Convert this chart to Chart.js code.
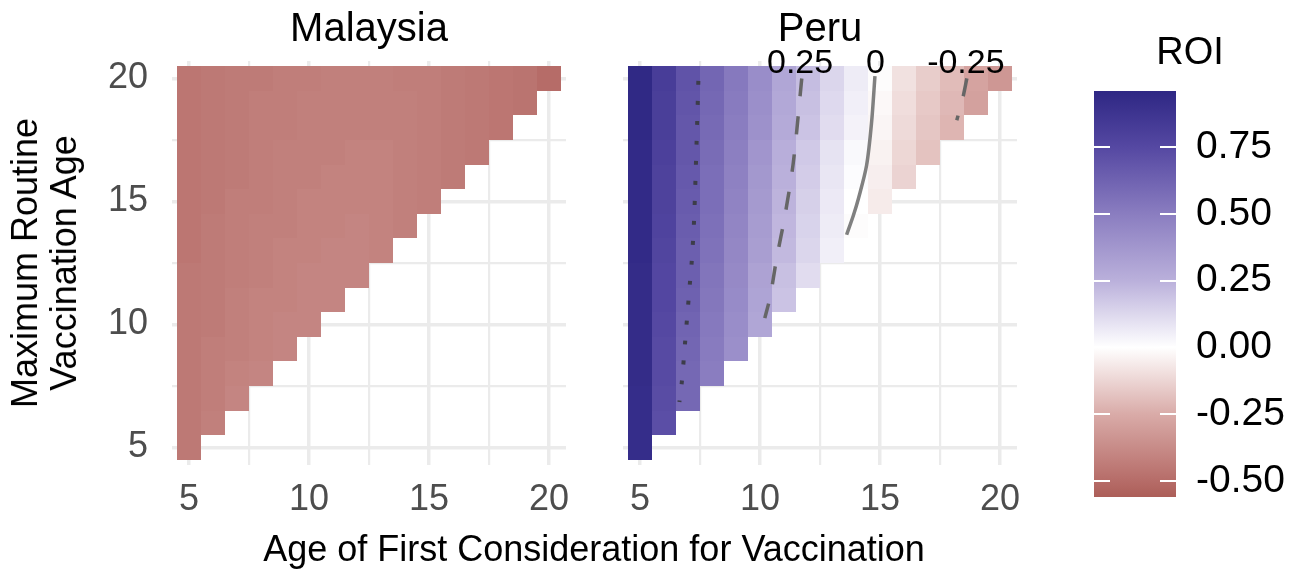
<!DOCTYPE html>
<html>
<head>
<meta charset="utf-8">
<script src="https://cdn.jsdelivr.net/npm/chart.js@4.4.0/dist/chart.umd.min.js"></script>
<style>
  body { margin: 0; background: #fff; width: 1299px; height: 571px; overflow: hidden; position: relative;
         font-family: "Liberation Sans", Arial, sans-serif; }
  canvas { position: absolute; }
  .lbl { position: absolute; transform: translate(-50%, -50%); white-space: nowrap; line-height: 1; color: #000; }
  .ytitle { position: absolute; left: 44px; top: 263px; transform: translate(-50%, -50%) rotate(-90deg);
            text-align: center; white-space: nowrap; font-size: 36px; line-height: 39px; color: #000; }
</style>
</head>
<body>
<canvas id="malaysia" width="600" height="571" style="left:0;top:0"></canvas>
<canvas id="peru" width="470" height="571" style="left:590px;top:0"></canvas>
<canvas id="legend" width="205" height="506" style="left:1094px;top:41px"></canvas>

<div class="lbl" style="left:369px;top:27px;font-size:40px">Malaysia</div>
<div class="lbl" style="left:820px;top:27px;font-size:40px">Peru</div>
<div class="lbl" style="left:1190px;top:51px;font-size:38px">ROI</div>
<div class="lbl" style="left:594px;top:549px;font-size:36px">Age of First Consideration for Vaccination</div>
<div class="ytitle">Maximum Routine<br>Vaccination Age</div>

<script>
// x: age of first consideration, rows: maximum routine age (top row first)
const ageFirst = [5, 6, 7, 8, 9, 10, 11, 12, 13, 14, 15, 16, 17, 18, 19, 20];
const maxRoutine = [20, 19, 18, 17, 16, 15, 14, 13, 12, 11, 10, 9, 8, 7, 6, 5];

const malaysiaROI = [
  [-0.46, -0.45, -0.44, -0.44, -0.43, -0.43, -0.42, -0.42, -0.42, -0.43, -0.43, -0.44, -0.45, -0.46, -0.47, -0.50],
  [-0.46, -0.45, -0.44, -0.43, -0.43, -0.42, -0.42, -0.42, -0.42, -0.42, -0.43, -0.44, -0.45, -0.46, -0.47],
  [-0.46, -0.45, -0.44, -0.43, -0.43, -0.42, -0.42, -0.42, -0.42, -0.42, -0.43, -0.44, -0.45, -0.46],
  [-0.46, -0.45, -0.44, -0.43, -0.42, -0.42, -0.42, -0.41, -0.41, -0.42, -0.43, -0.44, -0.45],
  [-0.46, -0.45, -0.44, -0.43, -0.42, -0.42, -0.41, -0.41, -0.41, -0.42, -0.43, -0.44],
  [-0.46, -0.45, -0.43, -0.43, -0.42, -0.41, -0.41, -0.41, -0.41, -0.42, -0.43],
  [-0.46, -0.44, -0.43, -0.42, -0.42, -0.41, -0.41, -0.40, -0.41, -0.42],
  [-0.46, -0.44, -0.43, -0.42, -0.41, -0.41, -0.40, -0.40, -0.41],
  [-0.45, -0.44, -0.43, -0.42, -0.41, -0.40, -0.40, -0.40],
  [-0.45, -0.44, -0.42, -0.41, -0.41, -0.40, -0.40],
  [-0.45, -0.44, -0.42, -0.41, -0.40, -0.40],
  [-0.45, -0.43, -0.42, -0.41, -0.40],
  [-0.45, -0.43, -0.41, -0.40],
  [-0.45, -0.43, -0.40],
  [-0.45, -0.42],
  [-0.45]
];

const peruROI = [
  [0.95, 0.82, 0.70, 0.61, 0.52, 0.42, 0.30, 0.21, 0.13, 0.06, -0.01, -0.09, -0.15, -0.20, -0.28, -0.33],
  [0.95, 0.81, 0.69, 0.60, 0.51, 0.41, 0.29, 0.20, 0.12, 0.05, -0.02, -0.10, -0.16, -0.21, -0.29],
  [0.95, 0.81, 0.68, 0.59, 0.50, 0.40, 0.28, 0.19, 0.11, 0.04, -0.03, -0.11, -0.17, -0.22],
  [0.94, 0.80, 0.68, 0.58, 0.49, 0.38, 0.26, 0.17, 0.09, 0.02, -0.04, -0.12, -0.18],
  [0.94, 0.79, 0.67, 0.57, 0.48, 0.37, 0.25, 0.16, 0.08, 0.01, -0.05, -0.13],
  [0.94, 0.79, 0.66, 0.57, 0.47, 0.36, 0.24, 0.15, 0.07, 0.00, -0.06],
  [0.94, 0.78, 0.65, 0.56, 0.46, 0.35, 0.23, 0.14, 0.06, -0.01],
  [0.94, 0.77, 0.64, 0.55, 0.45, 0.34, 0.22, 0.13, 0.05],
  [0.93, 0.76, 0.64, 0.54, 0.44, 0.32, 0.20, 0.11],
  [0.93, 0.76, 0.63, 0.53, 0.43, 0.31, 0.19],
  [0.93, 0.75, 0.62, 0.52, 0.42, 0.30],
  [0.93, 0.74, 0.61, 0.51, 0.41],
  [0.93, 0.74, 0.60, 0.50],
  [0.92, 0.73, 0.60],
  [0.92, 0.72],
  [0.92]
];

// Peru contour paths (age first, max routine age)
const contourDotted = [
  {x: 7.43, y: 19.9}, {x: 7.36, y: 17.5}, {x: 7.25, y: 14.2}, {x: 7.15, y: 12.5},
  {x: 7.08, y: 11.7}, {x: 6.88, y: 9.3}, {x: 6.74, y: 7.65}, {x: 6.64, y: 6.85}
];
const contourPos25 = [
  {x: 11.74, y: 20.0}, {x: 11.39, y: 16.6}, {x: 11.04, y: 14.43}, {x: 10.69, y: 12.67},
  {x: 10.42, y: 11.11}, {x: 10.2, y: 10.26}
];
const contourZero = [
  {x: 14.79, y: 20.1}, {x: 14.65, y: 18.22}, {x: 14.44, y: 16.46}, {x: 14.1, y: 15.11},
  {x: 13.89, y: 14.43}, {x: 13.61, y: 13.65}
];
const contourNeg25 = [
  {x: 18.62, y: 20.0}, {x: 18.45, y: 19.2}, {x: 18.2, y: 18.3}
];
const contourLabels = ['0.25', '0', '-0.25'];
const contourLabelX = [11.67, 14.81, 18.58];
const contourLabelY = 20.6;

const axisTicks = [5, 7.5, 10, 12.5, 15, 17.5, 20];
const roiTicks = [-0.5, -0.25, 0, 0.25, 0.5, 0.75];
const roiMin = -0.56, roiMax = 0.96;

// colour ramp
const rampStops = [
  {v: -0.56, c: [172, 94, 88]},
  {v: -0.50, c: [182, 108, 104]},
  {v: -0.25, c: [217, 171, 168]},
  {v: 0.00, c: [255, 255, 255]},
  {v: 0.25, c: [186, 176, 219]},
  {v: 0.50, c: [138, 125, 192]},
  {v: 0.75, c: [85, 72, 162]},
  {v: 0.96, c: [46, 39, 132]}
];

const FONT = '"Liberation Sans", Arial, sans-serif';

function roiColor(v) {
  if (v <= rampStops[0].v) return `rgb(${rampStops[0].c})`;
  for (let i = 1; i < rampStops.length; i++) {
    const a = rampStops[i - 1], b = rampStops[i];
    if (v <= b.v) {
      const f = (v - a.v) / (b.v - a.v);
      const c = a.c.map((ch, k) => Math.round(ch + (b.c[k] - ch) * f));
      return `rgb(${c})`;
    }
  }
  return `rgb(${rampStops[rampStops.length - 1].c})`;
}

function toCells(rows) {
  const out = [];
  rows.forEach((row, i) => {
    row.forEach((v, j) => out.push({x: ageFirst[j], y: maxRoutine[i], v: v}));
  });
  return out;
}

const heatCells = {
  id: 'heatCells',
  beforeDatasetsDraw(chart) {
    const {ctx, scales: {x, y}} = chart;
    ctx.save();
    chart.data.datasets[0].data.forEach(c => {
      const l = Math.round(x.getPixelForValue(c.x - 0.5));
      const r = Math.round(x.getPixelForValue(c.x + 0.5));
      const t = Math.round(y.getPixelForValue(c.y + 0.5));
      const b = Math.round(y.getPixelForValue(c.y - 0.5));
      ctx.fillStyle = roiColor(c.v);
      ctx.fillRect(l, t, r - l, b - t);
    });
    ctx.restore();
  }
};

const contourText = {
  id: 'contourText',
  afterDatasetsDraw(chart) {
    const {ctx, scales: {x, y}} = chart;
    ctx.save();
    ctx.font = `34px ${FONT}`;
    ctx.fillStyle = '#000';
    ctx.textAlign = 'center';
    ctx.textBaseline = 'middle';
    contourLabels.forEach((t, i) => {
      ctx.fillText(t, x.getPixelForValue(contourLabelX[i]), y.getPixelForValue(contourLabelY));
    });
    ctx.restore();
  }
};

function gridWidth(ctx) {
  return ctx.tick && ctx.tick.value % 5 === 0 ? 3.5 : 2.2;
}

function panelScales(showY) {
  return {
    x: {
      type: 'linear', min: 4.29, max: 20.71,
      afterBuildTicks: s => { s.ticks = axisTicks.map(v => ({value: v})); },
      afterFit: s => { s.height = 60; },
      grid: {color: '#EBEBEB', lineWidth: gridWidth, drawTicks: false},
      border: {display: false},
      ticks: {
        autoSkip: false, maxRotation: 0, padding: 13, color: '#4D4D4D',
        font: {size: 36, family: FONT},
        callback: v => (v % 5 === 0 ? String(v) : '')
      }
    },
    y: {
      type: 'linear', min: 4.29, max: 20.71,
      afterBuildTicks: s => { s.ticks = axisTicks.map(v => ({value: v})); },
      afterFit: s => { s.width = showY ? 172 : 0; },
      grid: {color: '#EBEBEB', lineWidth: gridWidth, drawTicks: false},
      border: {display: false},
      ticks: {
        display: showY, autoSkip: false, padding: 24, color: '#4D4D4D',
        font: {size: 36, family: FONT},
        callback: v => (v % 5 === 0 ? String(v) : '')
      }
    }
  };
}

const baseOptions = {
  responsive: false,
  animation: false,
  events: [],
  plugins: {legend: {display: false}, tooltip: {enabled: false}}
};

new Chart(document.getElementById('malaysia'), {
  type: 'scatter',
  data: {datasets: [{data: toCells(malaysiaROI), pointRadius: 0}]},
  options: Object.assign({}, baseOptions, {
    layout: {padding: {left: 0, top: 61, right: 34, bottom: 46}},
    scales: panelScales(true)
  }),
  plugins: [heatCells]
});

const lineStyle = {showLine: true, pointRadius: 0, tension: 0.3, fill: false, borderCapStyle: 'butt'};

new Chart(document.getElementById('peru'), {
  type: 'scatter',
  data: {
    datasets: [
      {data: toCells(peruROI), pointRadius: 0},
      Object.assign({data: contourDotted, borderColor: '#3d3d4a', borderWidth: 4, borderDash: [4, 16]}, lineStyle),
      Object.assign({data: contourPos25, borderColor: '#666666', borderWidth: 3.5, borderDash: [18, 20]}, lineStyle),
      Object.assign({data: contourZero, borderColor: '#808080', borderWidth: 3.5}, lineStyle),
      Object.assign({data: contourNeg25, borderColor: '#666666', borderWidth: 3.5, borderDash: [18, 20]}, lineStyle)
    ]
  },
  options: Object.assign({}, baseOptions, {
    layout: {padding: {left: 33, top: 61, right: 43, bottom: 46}},
    scales: panelScales(false)
  }),
  plugins: [heatCells, contourText]
});

const barTicks = {
  id: 'barTicks',
  afterDatasetsDraw(chart) {
    const {ctx, chartArea: a, scales: {y}} = chart;
    ctx.save();
    ctx.strokeStyle = '#ffffff';
    ctx.lineWidth = 2;
    roiTicks.forEach(v => {
      const py = Math.round(y.getPixelForValue(v));
      ctx.beginPath();
      ctx.moveTo(a.left, py); ctx.lineTo(a.left + 16, py);
      ctx.moveTo(a.right - 16, py); ctx.lineTo(a.right, py);
      ctx.stroke();
    });
    ctx.restore();
  }
};

new Chart(document.getElementById('legend'), {
  type: 'bar',
  data: {
    labels: ['ROI'],
    datasets: [{
      data: [[roiMin, roiMax]],
      borderWidth: 0,
      barPercentage: 1,
      categoryPercentage: 1,
      backgroundColor: c => {
        const ch = c.chart;
        if (!ch.chartArea) return '#ffffff';
        const ys = ch.scales.y;
        const g = ch.ctx.createLinearGradient(0, ys.getPixelForValue(roiMin), 0, ys.getPixelForValue(roiMax));
        rampStops.forEach(s => g.addColorStop((s.v - roiMin) / (roiMax - roiMin), `rgb(${s.c})`));
        return g;
      }
    }]
  },
  options: Object.assign({}, baseOptions, {
    layout: {padding: {left: 0, top: 50, right: 0, bottom: 50}},
    scales: {
      x: {display: false},
      y: {
        position: 'right', min: roiMin, max: roiMax,
        afterBuildTicks: s => { s.ticks = roiTicks.map(v => ({value: v})); },
        afterFit: s => { s.width = 123; },
        grid: {display: false},
        border: {display: false},
        ticks: {padding: 12, color: '#000', font: {size: 39, family: FONT}, callback: v => v.toFixed(2)}
      }
    }
  }),
  plugins: [barTicks]
});
</script>
</body>
</html>
